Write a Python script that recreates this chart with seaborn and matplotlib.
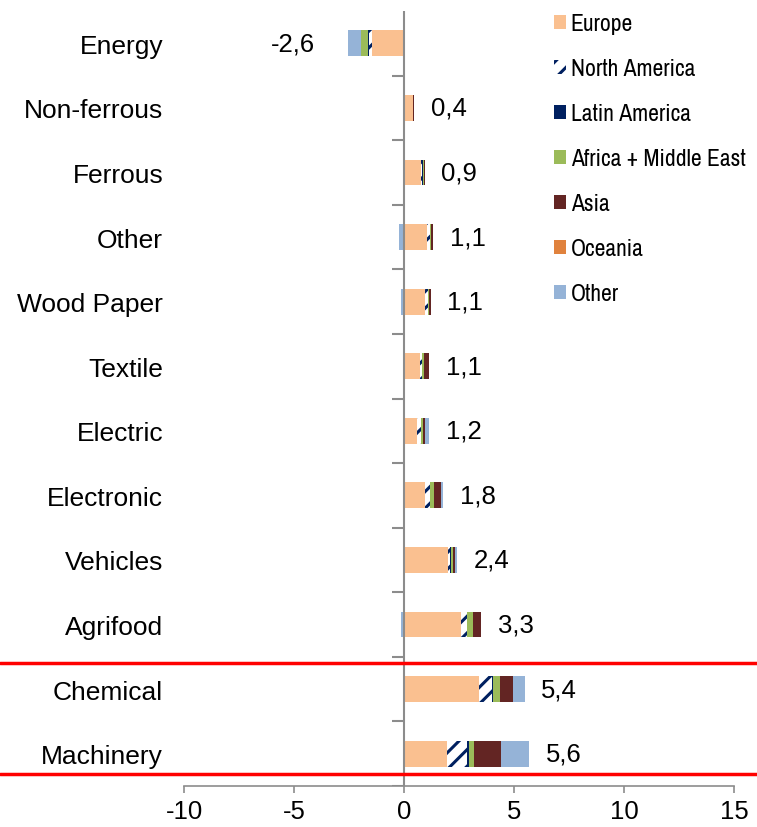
import matplotlib

matplotlib.use("Agg")

import matplotlib.pyplot as plt
import numpy as np
import pandas as pd
import seaborn as sns
from matplotlib import font_manager
from matplotlib.lines import Line2D
from matplotlib.patches import Patch
from matplotlib.transforms import blended_transform_factory


SECTORS = ["Energy", "Non-ferrous", "Ferrous", "Other", "Wood Paper", "Textile",
           "Electric", "Electronic", "Vehicles", "Agrifood", "Chemical", "Machinery"]
TOTAL_LABELS = ["-2,6", "0,4", "0,9", "1,1", "1,1", "1,1", "1,2", "1,8", "2,4", "3,3", "5,4", "5,6"]

europe = [-1.45, 0.40, 0.78, 1.05, 0.95, 0.72, 0.60, 0.93, 2.00, 2.60, 3.40, 1.95]
north_america = [-0.15, 0.02, 0.05, 0.15, 0.15, 0.10, 0.15, 0.25, 0.10, 0.25, 0.60, 0.90]
latin_america = [-0.05, 0.00, 0.01, 0.00, 0.00, 0.00, 0.00, 0.02, 0.02, 0.03, 0.03, 0.10]
africa_me = [-0.30, 0.00, 0.05, 0.03, 0.03, 0.10, 0.10, 0.15, 0.10, 0.27, 0.35, 0.25]
asia = [0.00, 0.05, 0.05, 0.10, 0.08, 0.22, 0.12, 0.35, 0.10, 0.35, 0.55, 1.20]
oceania = [0.00, 0.00, 0.00, 0.00, 0.00, 0.00, 0.00, 0.00, 0.00, 0.00, 0.00, 0.00]
other = [-0.60, -0.05, -0.05, -0.25, -0.15, 0.00, 0.18, 0.07, 0.08, -0.15, 0.55, 1.27]

SERIES = [
    ("Europe", europe, "#FAC090", None),
    ("North America", north_america, "white", "//"),
    ("Latin America", latin_america, "#002060", None),
    ("Africa + Middle East", africa_me, "#9BBB59", None),
    ("Asia", asia, "#632523", None),
    ("Oceania", oceania, "#E0823D", None),
    ("Other", other, "#95B3D7", None),
]

GREY = "#8C8C8C"

sns.set_theme(style="white")
plt.rcParams.update({
    "font.family": ["Liberation Sans", "DejaVu Sans"],
    "hatch.linewidth": 2.2,
    "hatch.color": "#002060",
})

# legend text in the reference is a condensed Arial look
legend_family = "Liberation Sans"
for cand in ["Liberation Sans Narrow", "Arimo Narrow", "Archivo Narrow", "PT Sans Narrow",
             "Roboto Condensed", "Open Sans Condensed"]:
    try:
        font_manager.findfont(cand, fallback_to_default=False)
        legend_family = cand
        break
    except ValueError:
        continue

fig = plt.figure(figsize=(7.57, 8.28), dpi=100)
ax = fig.add_axes([0.2431, 0.0495, 0.7266, 0.936])

pos_base = np.zeros(len(SECTORS))
neg_base = np.zeros(len(SECTORS))
for name, vals, color, hatch in SERIES:
    vals = np.asarray(vals, dtype=float)
    left = np.where(vals >= 0, pos_base, neg_base)
    df = pd.DataFrame({"sector": SECTORS, "value": vals})
    n_before = len(ax.patches)
    sns.barplot(data=df, x="value", y="sector", order=SECTORS, orient="h",
                width=0.4, ax=ax, errorbar=None, color=color, saturation=1)
    new_bars = ax.patches[n_before:]
    for bar, x0 in zip(new_bars, left):
        bar.set_x(x0)
        bar.set_linewidth(0)
        if hatch:
            bar.set_facecolor("white")
            bar.set_edgecolor("#002060")
            bar.set_hatch(hatch)
    pos_base = pos_base + np.where(vals > 0, vals, 0)
    neg_base = neg_base + np.where(vals < 0, vals, 0)

# value labels at the stack ends
for i, lab in enumerate(TOTAL_LABELS):
    if lab.startswith("-"):
        ax.annotate(lab, (neg_base[i], i), xytext=(-24, 0), textcoords="offset points",
                    ha="right", va="center", fontsize=18.5, color="black")
    else:
        ax.annotate(lab, (pos_base[i], i), xytext=(12, 0), textcoords="offset points",
                    ha="left", va="center", fontsize=18.5, color="black")

ax.set_xlim(-10, 15)
ax.set_ylim(len(SECTORS) - 0.5, -0.5)
ax.set_xticks([-10, -5, 0, 5, 10, 15])
ax.set_xticklabels(["-10", "-5", "0", "5", "10", "15"])
ax.set_xlabel("")
ax.set_ylabel("")
ax.tick_params(axis="y", length=0, labelsize=19, pad=15, labelcolor="black")
ax.tick_params(axis="x", bottom=True, length=5, width=1.2, color=GREY, labelsize=18.5, pad=4,
               direction="out", labelcolor="black")
for s in ["top", "right", "left"]:
    ax.spines[s].set_visible(False)
ax.spines["bottom"].set_color(GREY)
ax.spines["bottom"].set_linewidth(1.2)

# category axis at zero with boundary ticks
ax.axvline(0, color=GREY, lw=1.5, zorder=4)
bounds = np.arange(len(SECTORS)) + 0.5
ax.hlines(bounds, -0.55, 0, color=GREY, lw=1.5, zorder=4)

# red separator lines across the figure
tr = blended_transform_factory(fig.transFigure, ax.transData)
for yv in (9.59, 11.31):
    fig.add_artist(Line2D([0, 1], [yv, yv], transform=tr, color="#FF0000", lw=2.5))

handles = []
for name, vals, color, hatch in SERIES:
    if hatch:
        handles.append(Patch(facecolor="white", edgecolor="#002060", hatch=hatch, linewidth=0, label=name))
    else:
        handles.append(Patch(facecolor=color, edgecolor="none", label=name))

# size the legend font so the longest label is about as wide as in the reference
renderer = fig.canvas.get_renderer()
probe = fig.text(0, 0, "Africa + Middle East", family=legend_family, size=15)
w = probe.get_window_extent(renderer).width
probe.remove()
legend_size = min(17.0, 15 * 184 / w)


def make_legend(spacing):
    lg = fig.legend(handles=handles, loc="upper left", bbox_to_anchor=(0.7135, 1.0),
                    frameon=False, prop=dict(family=legend_family, size=legend_size),
                    handlelength=0.5, handleheight=0.5, handletextpad=0.2,
                    labelspacing=spacing, borderaxespad=0.3, borderpad=0.3)
    for t in lg.get_texts():
        t.set_color("black")
    return lg


spacing = 1.0
leg = make_legend(spacing)
fig.canvas.draw()
ys = [t.get_window_extent(renderer).y0 for t in leg.get_texts()]
pitch = (ys[0] - ys[-1]) / (len(ys) - 1)
leg.remove()
spacing += (45 - pitch) / (legend_size * 100 / 72)
leg = make_legend(spacing)

fig.savefig("out.png", dpi=100, facecolor="white")
